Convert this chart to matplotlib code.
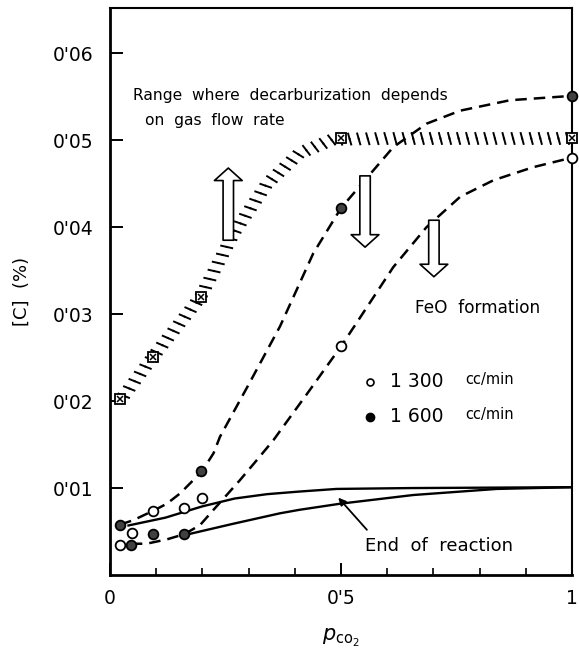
import numpy as np
import matplotlib
matplotlib.use('Agg')
import matplotlib.pyplot as plt
from matplotlib import patheffects

# measured points, p_CO2 vs [C] (%)
x_1300 = [0.022, 0.048, 0.094, 0.161, 0.200, 0.500, 1.000]
c_1300 = [0.0035, 0.0048, 0.0074, 0.0077, 0.0089, 0.0263, 0.0480]
x_1600 = [0.022, 0.045, 0.092, 0.161, 0.197, 0.500, 1.000]
c_1600 = [0.0058, 0.0035, 0.0047, 0.0047, 0.0120, 0.0422, 0.0551]
x_flow = [0.022, 0.093, 0.197, 0.500, 1.000]
c_flow = [0.0202, 0.0251, 0.0320, 0.0502, 0.0502]

# hand drawn guide curves
x_dash_hi = [0.022, 0.05, 0.094, 0.123, 0.152, 0.18, 0.2, 0.224, 0.238, 0.30,
             0.368, 0.44, 0.50, 0.613, 0.685, 0.758, 0.866, 1.0]
c_dash_hi = [0.0058, 0.0063, 0.0074, 0.0082, 0.0094, 0.0109, 0.0120, 0.0140, 0.0159, 0.0219,
             0.0286, 0.0370, 0.0422, 0.0492, 0.0519, 0.0534, 0.0546, 0.0551]
x_dash_lo = [0.045, 0.079, 0.123, 0.161, 0.195, 0.224, 0.2525, 0.281, 0.3175, 0.3535,
             0.43, 0.50, 0.53, 0.613, 0.685, 0.758, 0.83, 0.916, 1.0]
c_dash_lo = [0.0036, 0.0036, 0.0041, 0.0047, 0.00575, 0.0075, 0.0092, 0.0109, 0.0132, 0.0155,
             0.0211, 0.0263, 0.0287, 0.0354, 0.0400, 0.0435, 0.0454, 0.0469, 0.0480]
x_end_hi = [0.04, 0.12, 0.20, 0.27, 0.34, 0.41, 0.49, 0.65, 1.0]
c_end_hi = [0.0057, 0.0066, 0.0079, 0.0088, 0.0093, 0.0096, 0.0099, 0.0100, 0.0101]
x_end_lo = [0.17, 0.267, 0.368, 0.41, 0.498, 0.656, 0.837, 1.0]
c_end_lo = [0.0047, 0.0059, 0.0071, 0.0075, 0.0082, 0.0092, 0.0099, 0.0101]
x_band = [0.024, 0.093, 0.195, 0.27, 0.34, 0.41, 0.483, 0.6, 0.8, 1.0]
c_band = [0.0202, 0.0251, 0.0319, 0.0395, 0.0450, 0.0485, 0.0501, 0.0502, 0.0502, 0.0502]

# hollow arrows: x, tail, tip
arrows = [(0.256, 0.0385, 0.0468), (0.552, 0.0459, 0.0377), (0.701, 0.0408, 0.0343)]

xticks = [0, 0.5, 1]
xtick_labels = ['0', "0'5", '1']
yticks = [0.01, 0.02, 0.03, 0.04, 0.05, 0.06]
ytick_labels = ["0'0%d" % k for k in range(1, 7)]

plt.rcParams['font.family'] = 'DejaVu Sans'

fig = plt.figure(figsize=(5.79, 6.53), dpi=100)
ax = fig.add_axes([0.19, 0.1194, 0.798, 0.8683])

ax.plot(x_dash_hi, c_dash_hi, color='black', lw=1.8, dashes=(4.6, 2.8))
ax.plot(x_dash_lo, c_dash_lo, color='black', lw=1.8, dashes=(4.6, 2.8))
ax.plot(x_end_hi, c_end_hi, color='black', lw=1.7)
ax.plot(x_end_lo, c_end_lo, color='black', lw=1.7)

# hatched boundary: ticks on both sides so the strokes sit across the curve
band, = ax.plot(x_band, c_band, color='none', lw=1.4)
band.set_path_effects([
    patheffects.TickedStroke(spacing=6.5, angle=105, length=0.62, foreground='black'),
    patheffects.TickedStroke(spacing=6.5, angle=-75, length=0.62, foreground='black'),
])

ax.plot(x_flow, c_flow, ls='none', marker='s', ms=6.5, mfc='white', mec='black',
        mew=1.3, clip_on=False, zorder=5)
ax.plot(x_flow, c_flow, ls='none', marker='x', ms=4.5, mec='black',
        mew=1.1, clip_on=False, zorder=6)
ax.plot(x_1300, c_1300, ls='none', marker='o', ms=7, mfc='white', mec='black',
        mew=1.3, clip_on=False, zorder=5)
ax.plot(x_1600, c_1600, ls='none', marker='o', ms=7, mfc='0.25', mec='black',
        mew=1.3, clip_on=False, zorder=5)

for xa, y0, y1 in arrows:
    ax.annotate('', xy=(xa, y1), xytext=(xa, y0),
                arrowprops=dict(arrowstyle='simple,head_length=0.9,head_width=2.0,tail_width=0.75',
                                mutation_scale=10, fc='white', ec='black', lw=1.2,
                                shrinkA=0, shrinkB=0))

ax.annotate('', xy=(0.494, 0.0089), xytext=(0.556, 0.0052),
            arrowprops=dict(arrowstyle='-|>', mutation_scale=11, color='black', lw=1.3,
                            shrinkA=0, shrinkB=0))

ax.text(0.05, 0.0551, 'Range  where  decarburization  depends', fontsize=11.2, va='center')
ax.text(0.076, 0.0523, 'on  gas  flow  rate', fontsize=11.2, va='center')
ax.text(0.66, 0.0307, 'FeO  formation', fontsize=12.2, va='center')
ax.text(0.552, 0.0033, 'End  of  reaction', fontsize=13, va='center')

# key
ax.plot([0.563], [0.0222], ls='none', marker='o', ms=5, mfc='white', mec='black', mew=1.2)
ax.plot([0.563], [0.0182], ls='none', marker='o', ms=6, mfc='black', mec='black')
for yk, lab in [(0.0222, '1 300'), (0.0182, '1 600')]:
    ax.text(0.606, yk, lab, fontsize=13.5, va='center')
    ax.text(0.768, yk + 0.0003, 'cc/min', fontsize=10.5, va='center')

ax.set_xlim(0, 1)
ax.set_ylim(0, 0.0652)
ax.set_xticks(xticks)
ax.set_xticklabels(xtick_labels, fontsize=13.5)
ax.set_xticks(np.arange(0.1, 1.0, 0.1), minor=True)
ax.set_yticks(yticks)
ax.set_yticklabels(ytick_labels, fontsize=13.5)
ax.tick_params(axis='both', which='major', direction='in', length=9, width=1.4, pad=10)
ax.tick_params(axis='x', which='minor', direction='in', length=5, width=1.2)
ax.tick_params(axis='y', which='major', pad=12)

for side in ['left', 'bottom']:
    ax.spines[side].set_linewidth(2.0)
for side in ['top', 'right']:
    ax.spines[side].set_linewidth(1.5)

ax.set_ylabel('[C]  (%)', fontsize=13, labelpad=16)
ax.set_xlabel(r'$p_{\mathrm{co_2}}$', fontsize=15, labelpad=14)

fig.savefig('out.png', dpi=100)
